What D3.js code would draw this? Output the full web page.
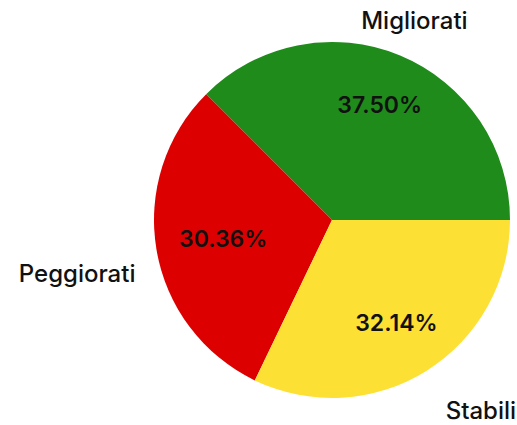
<!DOCTYPE html>
<html><head><meta charset="utf-8">
<script src="https://cdn.jsdelivr.net/npm/d3@7"></script>
<style>body{margin:0;background:#fff}svg{display:block}</style>
</head><body>
<svg id="c" width="517" height="425"></svg>
<script>
const categories = ["Migliorati", "Peggiorati", "Stabili"];
const values = [37.50, 30.36, 32.14];
const colors = ["#1f8b1a", "#dc0000", "#fde034"];

const svg = d3.select("#c");
const cx = 332, cy = 220, R = 178;
const g = svg.append("g").attr("transform", `translate(${cx},${cy})`);

const pie = d3.pie().sort(null).startAngle(Math.PI/2).endAngle(Math.PI/2 - 2*Math.PI);
const arcs = pie(values);
const arc = d3.arc().innerRadius(0).outerRadius(R);
const pctR = [0.70, 0.62, 0.68];
const labR = [1.21, 1.12, 1.2];
const at = (d, f) => d3.arc().innerRadius(R*f).outerRadius(R*f).centroid(d);

g.selectAll("path").data(arcs).join("path")
  .attr("d", arc).attr("fill", (d,i)=>colors[i]);

const font = "Inter, 'Noto Sans', sans-serif";
g.selectAll("text.pct").data(arcs).join("text").attr("class","pct")
  .attr("transform", (d,i)=>`translate(${at(d,pctR[i])})`)
  .attr("text-anchor","middle").attr("dy","0.36em")
  .style("font-family", font).style("font-size","23px").style("font-weight",600)
  .attr("fill","#111")
  .text(d=>d.data.toFixed(2)+"%");

const anchors = ["middle","end","start"];
const dys = ["0.35em","1.2em","0.75em"];
g.selectAll("text.lab").data(arcs).join("text").attr("class","lab")
  .attr("transform", (d,i)=>`translate(${at(d,labR[i])})`)
  .attr("text-anchor",(d,i)=>anchors[i]).attr("dy",(d,i)=>dys[i])
  .style("font-family", font).style("font-size","24px").style("font-weight",500)
  .attr("fill","#111")
  .text((d,i)=>categories[i]);
</script>
</body></html>
